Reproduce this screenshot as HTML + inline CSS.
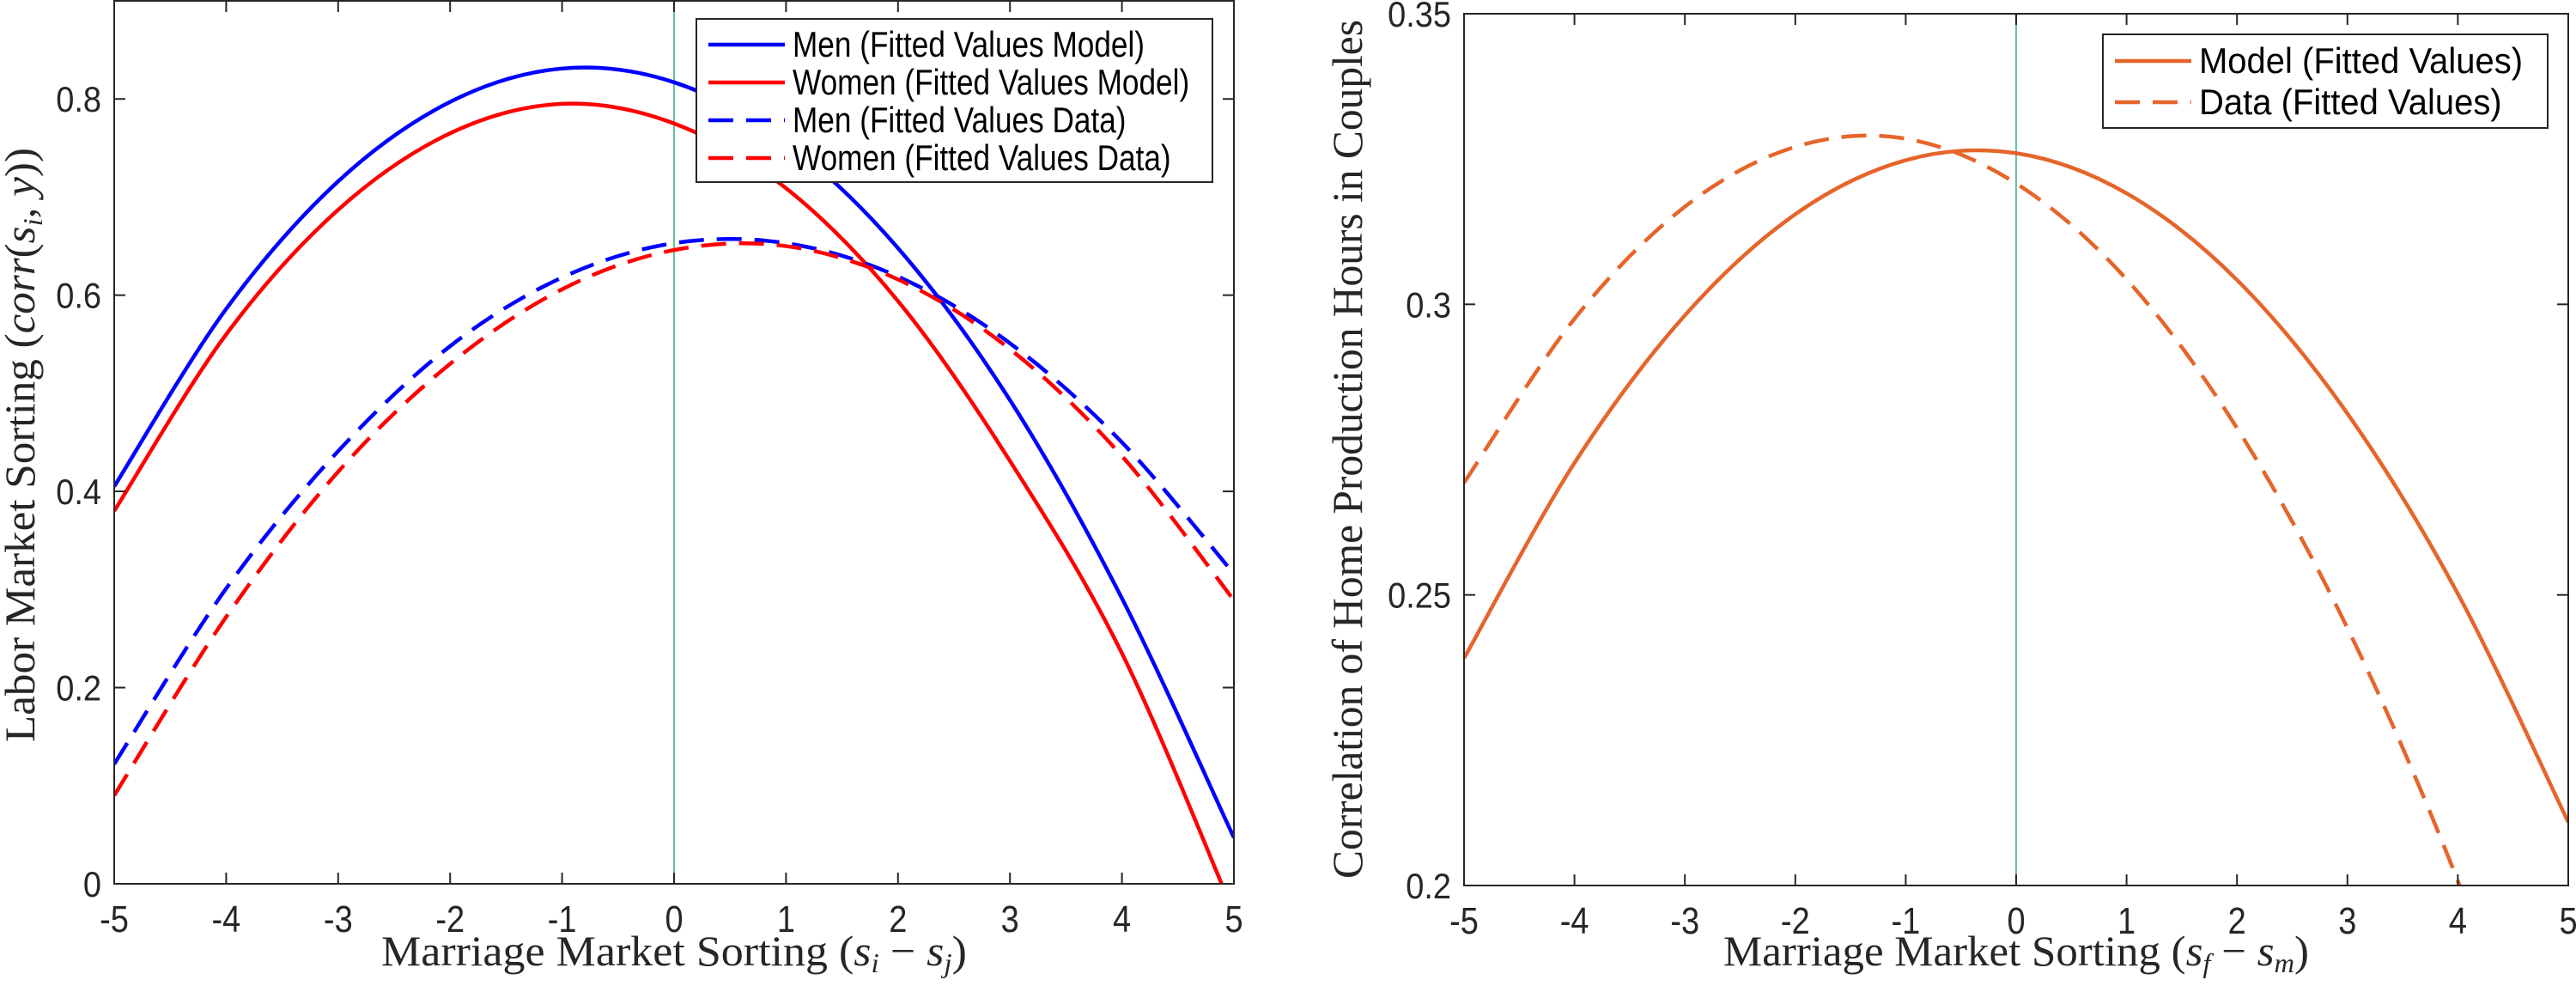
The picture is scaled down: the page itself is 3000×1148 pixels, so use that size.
<!DOCTYPE html>
<html><head><meta charset="utf-8"><style>
html,body{margin:0;padding:0;background:#fff;overflow:hidden;}
svg{display:block;}
.tk{font-family:"Liberation Sans",sans-serif;font-size:40px;fill:#262626;}
.lg{font-family:"Liberation Sans",sans-serif;font-size:40px;fill:#000;}
.ax{font-family:"Liberation Serif",serif;font-size:50px;fill:#262626;}
</style></head><body>
<svg id="chart" width="3000" height="1148" viewBox="0 0 3000 1148" xmlns="http://www.w3.org/2000/svg"></svg>
<script>
const xCats = [-5,-4,-3,-2,-1,0,1,2,3,4,5];
const xTickLabels = ['-5','-4','-3','-2','-1','0','1','2','3','4','5'];
const menModel = [0.405,0.586,0.716,0.797,0.831,0.817,0.756,0.648,0.493,0.291,0.047];
const womenModel = [0.380,0.560,0.687,0.765,0.795,0.775,0.709,0.594,0.431,0.235,-0.030];
const menData = [0.122,0.301,0.441,0.548,0.618,0.653,0.653,0.619,0.551,0.450,0.316];
const womenData = [0.090,0.272,0.420,0.530,0.606,0.646,0.650,0.616,0.545,0.436,0.289];
const leftYTicks = [0,0.2,0.4,0.6,0.8];
const leftYTickLabels = ['0','0.2','0.4','0.6','0.8'];
const homeModel = [0.2391,0.2727,0.2981,0.3155,0.3248,0.3260,0.3191,0.3042,0.2812,0.2502,0.2109];
const homeData = [0.2693,0.2975,0.3168,0.3271,0.3285,0.3208,0.3043,0.2787,0.2443,0.2008,0.1481];
const rightYTicks = [0.2,0.25,0.3,0.35];
const rightYTickLabels = ['0.2','0.25','0.3','0.35'];

const NS='http://www.w3.org/2000/svg';
const svg=document.getElementById('chart');
function mk(tag,attrs,parent){const e=document.createElementNS(NS,tag);for(const k in attrs)e.setAttribute(k,attrs[k]);(parent||svg).appendChild(e);return e;}

function smoothPath(pts){
  let d='M'+pts[0][0]+','+pts[0][1];
  for(let i=0;i<pts.length-1;i++){
    const p0=pts[Math.max(0,i-1)],p1=pts[i],p2=pts[i+1],p3=pts[Math.min(pts.length-1,i+2)];
    const c1=[p1[0]+(p2[0]-p0[0])/6,p1[1]+(p2[1]-p0[1])/6];
    const c2=[p2[0]-(p3[0]-p1[0])/6,p2[1]-(p3[1]-p1[1])/6];
    d+=' C'+c1[0]+','+c1[1]+' '+c2[0]+','+c2[1]+' '+p2[0]+','+p2[1];
  }
  return d;
}

function panel(cfg){
  const g=mk('g',{});
  
  
  const X=v=>cfg.x0+(v-(-5))/10*(cfg.x1-cfg.x0);
  const Y=v=>cfg.yb+(v-cfg.ymin)/(cfg.ymax-cfg.ymin)*(cfg.yt-cfg.yb);
  const cid='clip-'+cfg.name;
  const defs=mk('defs',{},g);
  const cp=mk('clipPath',{id:cid},defs);
  mk('rect',{x:cfg.x0,y:cfg.yt,width:cfg.x1-cfg.x0,height:cfg.yb-cfg.yt},cp);
  const zl=mk('line',{x1:X(0),x2:X(0),y1:cfg.yt,y2:cfg.yb,stroke:'#66c2a0','stroke-width':2},g);
  
  
  const series=mk('g',{'clip-path':'url(#'+cid+')'},g);
  cfg.series.forEach(s=>{
    const pts=xCats.map((x,i)=>[X(x),Y(s.vals[i])]);
    const p=mk('path',{d:smoothPath(pts),fill:'none',stroke:s.color,'stroke-width':4.5},series);
    if(s.dash)p.setAttribute('stroke-dasharray','29,15');
    
    
  });
  const box=mk('rect',{x:cfg.x0,y:cfg.yt,width:cfg.x1-cfg.x0,height:cfg.yb-cfg.yt,fill:'none',stroke:'#262626','stroke-width':2},g);
  
  
  xCats.forEach((x,i)=>{
    mk('line',{x1:X(x),x2:X(x),y1:cfg.yb,y2:cfg.yb-13,stroke:'#262626','stroke-width':2},g);
    mk('line',{x1:X(x),x2:X(x),y1:cfg.yt,y2:cfg.yt+13,stroke:'#262626','stroke-width':2},g);
    const t=mk('text',{class:'tk','text-anchor':'middle',transform:'translate('+X(x)+','+(cfg.yb+56)+') scale(0.95,1.1)'},g);
    t.textContent=xTickLabels[i];
    
    
  });
  cfg.yticks.forEach((v,i)=>{
    mk('line',{x1:cfg.x0,x2:cfg.x0+13,y1:Y(v),y2:Y(v),stroke:'#262626','stroke-width':2},g);
    mk('line',{x1:cfg.x1,x2:cfg.x1-13,y1:Y(v),y2:Y(v),stroke:'#262626','stroke-width':2},g);
    let ty=Y(v)+15; if(i===cfg.yticks.length-1 && cfg.topClamp) ty=Math.max(ty,31);
    const t=mk('text',{class:'tk','text-anchor':'end',transform:'translate('+(cfg.x0-15)+','+ty+') scale(0.95,1.05)'},g);
    t.textContent=cfg.ylabels[i];
    
    
  });
  const xt=mk('text',{class:'ax','text-anchor':'middle',x:(cfg.x0+cfg.x1)/2,y:1124,textLength:cfg.xlen,lengthAdjust:'spacingAndGlyphs'},g);
  xt.innerHTML=cfg.xtitle;
  
  
  const yt=mk('text',{class:'ax','text-anchor':'middle',transform:'translate('+cfg.ytx+','+cfg.yty+') rotate(-90)',x:0,y:0,textLength:cfg.ylen,lengthAdjust:'spacingAndGlyphs'},g);
  yt.innerHTML=cfg.ytitle;
  
  
  const L=cfg.legend;
  const lg=mk('g',{},g);
  
  
  mk('rect',{x:L.x,y:L.y,width:L.w,height:L.h,fill:'#fff',stroke:'#262626','stroke-width':2},lg);
  cfg.series.forEach((s,i)=>{
    const cy=L.y+L.pad+i*L.row;
    const ln=mk('line',{x1:L.x+14,x2:L.x+103,y1:cy,y2:cy,stroke:s.color,'stroke-width':4.5},lg);
    if(s.dash)ln.setAttribute('stroke-dasharray','29,15');
    const t=mk('text',{class:'lg',transform:'translate('+(L.x+112)+','+(cy+14)+') scale('+L.sx+',1.05)'},lg);
    t.textContent=s.label;
    
    
  });
}

panel({name:'labor-market-panel',x0:133,x1:1437,yt:1,yb:1029,ymin:0,ymax:0.9,
  yticks:leftYTicks,ylabels:leftYTickLabels,xlen:682,ylen:692,
  xtitle:'Marriage Market Sorting (<tspan font-style="italic">s</tspan><tspan font-style="italic" font-size="32" dy="8">i</tspan><tspan dy="-8"> − </tspan><tspan font-style="italic">s</tspan><tspan font-style="italic" font-size="32" dy="8">j</tspan><tspan dy="-8">)</tspan>',
  ytitle:'Labor Market Sorting (<tspan font-style="italic">corr</tspan>(<tspan font-style="italic">s</tspan><tspan font-style="italic" font-size="32" dy="9">i</tspan><tspan dy="-9">, </tspan><tspan font-style="italic">y</tspan>))',
  ytx:40,yty:518,
  legend:{x:811,y:22,w:601,h:190,pad:30,row:44,sx:0.88},
  series:[
    {id:'men-model-line',vals:menModel,color:'#0000ff',dash:false,label:'Men (Fitted Values Model)'},
    {id:'women-model-line',vals:womenModel,color:'#ff0000',dash:false,label:'Women (Fitted Values Model)'},
    {id:'men-data-line',vals:menData,color:'#0000ff',dash:true,label:'Men (Fitted Values Data)'},
    {id:'women-data-line',vals:womenData,color:'#ff0000',dash:true,label:'Women (Fitted Values Data)'}
  ]});

panel({name:'home-production-panel',x0:1705,x1:2991,yt:16,yb:1031,ymin:0.2,ymax:0.35,
  yticks:rightYTicks,ylabels:rightYTickLabels,topClamp:true,xlen:682,ylen:1000,
  xtitle:'Marriage Market Sorting (<tspan font-style="italic">s</tspan><tspan font-style="italic" font-size="32" dy="8">f</tspan><tspan dy="-8"> − </tspan><tspan font-style="italic">s</tspan><tspan font-style="italic" font-size="32" dy="8">m</tspan><tspan dy="-8">)</tspan>',
  ytitle:'Correlation of Home Production Hours in Couples',
  ytx:1586,yty:523,
  legend:{x:2449,y:40,w:518,h:109,pad:31,row:48,sx:1.0},
  series:[
    {id:'model-line',vals:homeModel,color:'#e5652a',dash:false,label:'Model (Fitted Values)'},
    {id:'data-line',vals:homeData,color:'#e5652a',dash:true,label:'Data (Fitted Values)'}
  ]});
</script>
</body></html>
